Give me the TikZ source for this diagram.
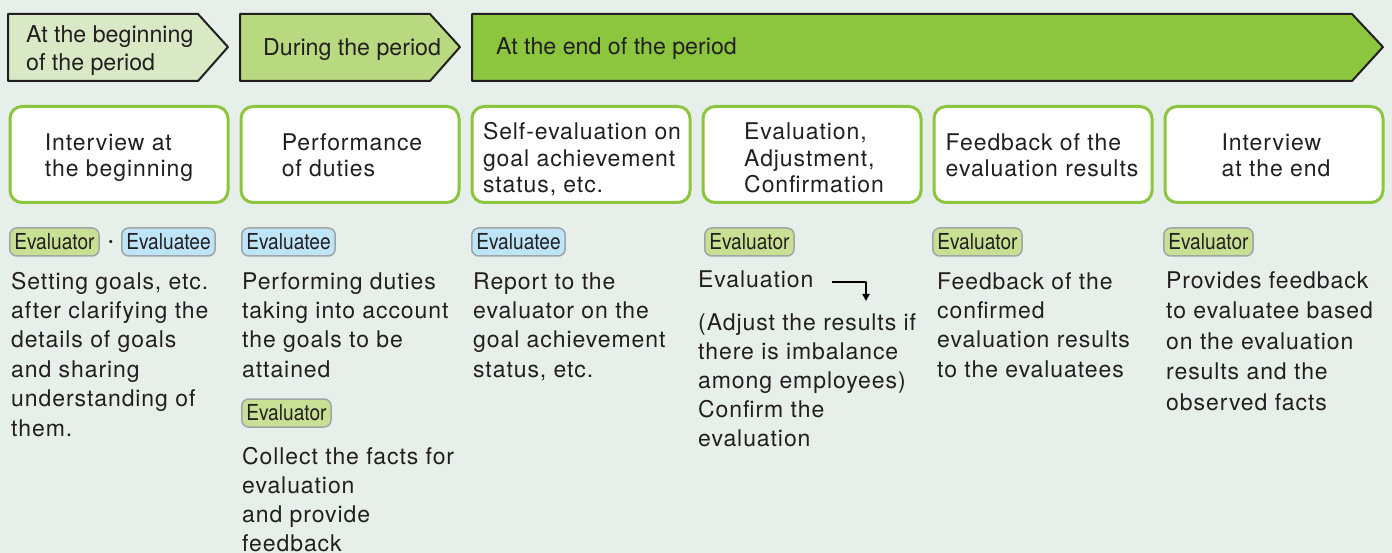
\documentclass[tikz,border=0pt]{standalone}
\usepackage{fontspec}
\setmainfont{TeX Gyre Heros}
\newfontfamily\bodyfont[LetterSpace=4]{TeX Gyre Heros}
\newfontfamily\tagfont[FakeStretch=0.87]{TeX Gyre Heros}
\usetikzlibrary{arrows.meta}

\definecolor{bgtint}{RGB}{230,239,234}
\definecolor{inkdark}{RGB}{35,31,32}
\definecolor{phasepale}{RGB}{217,233,197}
\definecolor{phasemid}{RGB}{185,217,128}
\definecolor{phasedeep}{RGB}{140,198,63}
\definecolor{stepgreen}{RGB}{140,198,63}
\definecolor{raterfill}{RGB}{200,224,148}
\definecolor{rateefill}{RGB}{190,228,247}
\definecolor{tagedge}{RGB}{160,165,165}

\begin{document}
\begin{tikzpicture}[x=1pt,y=-1pt,join=round,
    every node/.style={text=inkdark},
    phase/.style={draw=inkdark,line width=2pt},
    phasetext/.style={anchor=base west,align=left,inner sep=0pt,
      font=\fontsize{23.2}{27.5}\selectfont},
    stepbox/.style={draw=stepgreen,fill=white,line width=3pt,rounded corners=12pt,
      minimum width=218pt,minimum height=96pt,inner sep=0pt},
    steptext/.style={anchor=base,align=left,inner sep=0pt,
      font=\bodyfont\fontsize{23}{26.8}\selectfont},
    tag/.style={draw=tagedge,line width=1.5pt,rounded corners=7pt,minimum height=28pt,
      inner xsep=4.5pt,inner ysep=0pt,anchor=west,font=\tagfont\fontsize{22}{22}\selectfont},
    rater/.style={tag,fill=raterfill},
    ratee/.style={tag,fill=rateefill},
    note/.style={anchor=base west,align=left,inner sep=0pt,
      font=\bodyfont\fontsize{23}{29.4}\selectfont}]
  \useasboundingbox (0,0) rectangle (1392,553);
  \fill[bgtint] (0,0) rectangle (1392,553);

  % period arrows (text nodes sit on the baseline of their last line)
  \filldraw[phase,fill=phasepale] (8,14)--(198,14)--(228,47)--(198,81)--(8,81)--cycle;
  \filldraw[phase,fill=phasemid] (240,14)--(430,14)--(460,47)--(430,81)--(240,81)--cycle;
  \filldraw[phase,fill=phasedeep] (472,14)--(1352,14)--(1383,47)--(1352,81)--(472,81)--cycle;
  \node[phasetext] (beginLbl) at (26,70.5) {At the beginning\\of the period};
  \node[phasetext] (duringLbl) at (263,56) {During the period};
  \node[phasetext] (endLbl) at (496,55) {At the end of the period};

  % steps
  \node[stepbox] (stepA) at (119,154.5) {};
  \node[stepbox] (stepB) at (350,154.5) {};
  \node[stepbox] (stepC) at (581,154.5) {};
  \node[stepbox] (stepD) at (812,154.5) {};
  \node[stepbox] (stepE) at (1043,154.5) {};
  \node[stepbox] (stepF) at (1274,154.5) {};
  \node[steptext] (stepAText) at (119,177) {Interview at\\the beginning};
  \node[steptext] (stepBText) at (352,177) {Performance\\of duties};
  \node[steptext] (stepCText) at (582,193) {Self-evaluation on\\goal achievement\\status, etc.};
  \node[steptext] (stepDText) at (814,193) {Evaluation,\\Adjustment,\\Confirmation};
  \node[steptext] (stepEText) at (1042,177) {Feedback of the\\evaluation results};
  \node[steptext] (stepFText) at (1276,177) {Interview\\at the end};

  % who does it
  \node[rater] (raterA) at (9,242) {Evaluator};
  \node[font=\fontsize{13}{13}\selectfont] (dotA) at (111,243) {\textbullet};
  \node[ratee] (rateeA) at (121,242) {Evaluatee};
  \node[ratee] (rateeB) at (241,242) {Evaluatee};
  \node[rater] (raterB) at (241,413) {Evaluator};
  \node[ratee] (rateeC) at (471,242) {Evaluatee};
  \node[rater] (raterD) at (704,242) {Evaluator};
  \node[rater] (raterE) at (932,242) {Evaluator};
  \node[rater] (raterF) at (1163,242) {Evaluator};

  % what is done
  \node[note] (noteA) at (11,436) {Setting goals, etc.\\after clarifying the\\details of goals\\and sharing\\understanding of\\them.};
  \node[note] (noteB) at (242,377.2) {Performing duties\\taking into account\\the goals to be\\attained};
  \node[note,font=\bodyfont\fontsize{23}{28.7}\selectfont] (noteB2) at (242,551) {Collect the facts for\\evaluation\\and provide\\feedback};
  \node[note] (noteC) at (473,377.2) {Report to the\\evaluator on the\\goal achievement\\status, etc.};
  \node[note] (noteD) at (698,288) {Evaluation};
  \node[note,font=\bodyfont\fontsize{23}{28.8}\selectfont] (noteD2) at (698,446) {(Adjust the results if\\there is imbalance\\among employees)\\Confirm the\\evaluation};
  \node[note] (noteE) at (937,377.2) {Feedback of the\\confirmed\\evaluation results\\to the evaluatees};
  \node[note,font=\bodyfont\fontsize{23}{30.5}\selectfont] (noteF) at (1166,410) {Provides feedback\\to evaluatee based\\on the evaluation\\results and the\\observed facts};

  \coordinate (turnFrom) at (832,282);
  \coordinate (turnTo) at (866,301);
  \draw[line width=2pt,-{Triangle[length=7pt,width=7pt]}] (turnFrom) -| (turnTo);
\end{tikzpicture}
\end{document}
